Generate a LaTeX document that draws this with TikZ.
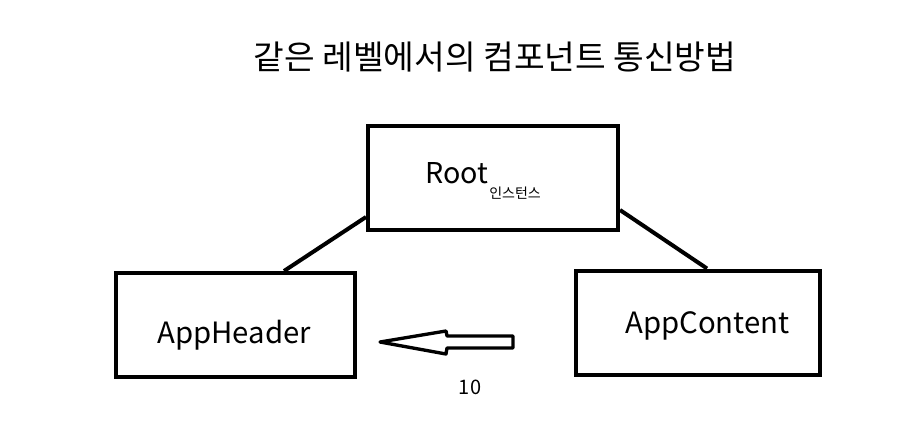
\documentclass[tikz,border=0pt]{standalone}
\usepackage{fontspec}
\setmainfont{Noto Sans CJK KR}
\usetikzlibrary{positioning, calc}

\tikzset{
  compbox/.style={draw, line width=3pt, minimum width=248pt*0.75, minimum height=104pt*0.75, inner sep=0pt},
  link/.style={line width=3pt},
  boxlbl/.style={anchor=base west, inner sep=0pt, font=\fontsize{22}{26}\selectfont},
}

\begin{document}
\begin{tikzpicture}[x=0.75pt, y=-0.75pt]
    \useasboundingbox (0,0) rectangle (919,426);
    \node[font=\fontsize{25}{30}\selectfont] (title) at (495,57) {같은 레벨에서의 컴포넌트 통신방법};
    % boxes
    \node[compbox, minimum width=250*0.75pt] (root) at (493,178) {};
    \node[compbox, minimum width=239*0.75pt] (header) at (235.5,325) {};
    \node[compbox, minimum width=244*0.75pt] (content) at (698,322.5) {};
    % labels
    \node[boxlbl, font=\fontsize{21.5}{25}\selectfont] (rootlbl) at (425,183) {Root};
    \node[anchor=west, inner sep=0pt, font=\fontsize{10.5}{12}\selectfont] (inst) at (489,193) {인스턴스};
    \node[boxlbl] (headerlbl) at (157,343) {AppHeader};
    \node[boxlbl] (contentlbl) at (625,333) {AppContent};
    \node[font=\fontsize{15}{18}\selectfont] (ten) at (470,387) {10};
    % links
    \draw[link] ([yshift=15*0.75pt]root.south west) -- ([xshift=170*0.75pt]header.north west);
    \draw[link] ([yshift=22*0.75pt]root.south east) -- ([xshift=133*0.75pt]content.north west);
    % hollow arrow
    \draw[line width=2.5pt, line join=round] (380,342) -- (446,331) -- (447,336) -- (513,336) -- (513,348)
      -- (447,348) -- (446,354) -- cycle;
\end{tikzpicture}
\end{document}
